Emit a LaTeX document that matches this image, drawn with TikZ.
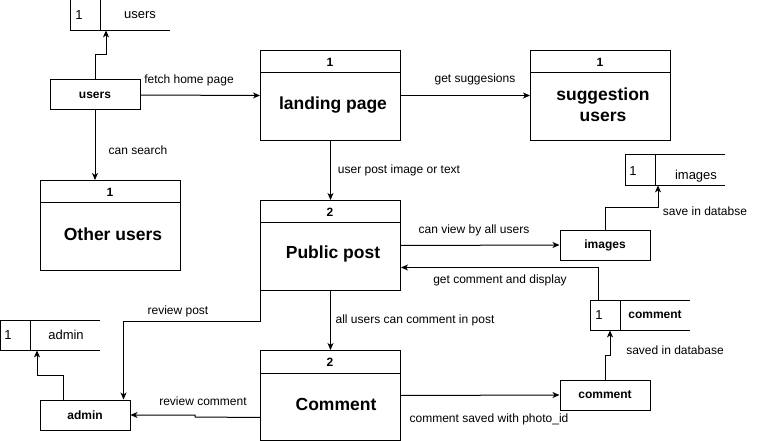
\documentclass[tikz,border=0pt]{standalone}
\usepackage{fontspec}
\setmainfont{Liberation Sans}
\usetikzlibrary{arrows.meta,calc}
\tikzset{
  ln/.style={line width=1pt,draw=black},
  arr/.style={ln,-{Stealth[length=7pt,width=6pt,inset=2pt]}},
  proc/.style={ln,rectangle,minimum width=140pt,minimum height=90pt,inner sep=0pt,anchor=north west},
  ent/.style={ln,rectangle,minimum width=90pt,minimum height=30pt,inner sep=0pt,font=\bfseries\fontsize{12}{14}\selectfont},
  store/.style={rectangle,minimum width=100pt,minimum height=30pt,inner sep=0pt,anchor=north west},
  lbl/.style={font=\fontsize{12}{14}\selectfont,inner sep=0pt},
  hdr/.style={font=\bfseries\fontsize{12}{14}\selectfont,inner sep=0pt},
  ttl/.style={font=\bfseries\fontsize{17.5}{21}\selectfont,inner sep=0pt,align=center},
  stxt/.style={font=\fontsize{13}{15}\selectfont,inner sep=0pt},
}
\newcommand{\datastore}[1]{%
  \draw[ln] (#1.north east) -- (#1.north west) -- (#1.south west) -- (#1.south east);
  \draw[ln] ($(#1.north west)+(30,0)$) -- ($(#1.south west)+(30,0)$);}
\newcommand{\prochdr}[1]{%
  \draw[ln] ($(#1.north west)+(0,23)$) -- ($(#1.north east)+(0,23)$);}
\begin{document}
\begin{tikzpicture}[x=1pt,y=-1pt]
\useasboundingbox (0,0) rectangle (761,441);
% data stores
\node[store] (us) at (70,0) {};
\datastore{us}
\node[stxt] (usn) at (79,15) {1};
\node[stxt] (ust) at (140,15) {users};
\node[store] (is) at (625,155) {};
\datastore{is}
\node[stxt] (isn) at (633,171) {1};
\node[stxt] (ist) at (696,176) {images};
\node[store] (cs) at (590,300) {};
\datastore{cs}
\node[stxt] (csn) at (599,315) {1};
\node[hdr] (cst) at (655,315) {comment};
\node[store] (as) at (0,320) {};
\datastore{as}
\node[stxt] (asn) at (8,335) {1};
\node[stxt] (ast) at (66,335) {admin};
% processes
\node[proc] (lp) at (260,50) {};
\prochdr{lp}
\node[hdr] (lpn) at (330,62) {1};
\node[ttl] (lpt) at (333,105) {landing page};
\node[proc] (su) at (530,50) {};
\prochdr{su}
\node[hdr] (sun) at (600,62) {1};
\node[ttl] (sut) at (603,105) {suggestion\\users};
\node[proc] (ou) at (40,180) {};
\prochdr{ou}
\node[hdr] (oun) at (110,192) {1};
\node[ttl] (out) at (113,234) {Other users};
\node[proc] (pp) at (260,200) {};
\prochdr{pp}
\node[hdr] (ppn) at (330,212) {2};
\node[ttl] (ppt) at (333,254) {Public post};
\node[proc] (cm) at (260,350) {};
\prochdr{cm}
\node[hdr] (cmn) at (330,362) {2};
\node[ttl] (cmt) at (336,404) {Comment};
% entities
\node[ent] (ue) at (95,95) {users};
\node[ent] (im) at (605,245) {images};
\node[ent] (ce) at (605,395) {comment};
\node[ent] (ad) at (85,415) {admin};
% connectors
\draw[arr] (ue.north) |- (106,55) -- (106,0 |- us.south);
\draw[arr] (ue.east) -- (lp.west);
\draw[arr] (ue.south) -- (ue.south |- ou.north);
\draw[arr] (lp.east) -- (su.west);
\draw[arr] (lp.south) -- (pp.north);
\draw[arr] (pp.east) -- (im.west);
\draw[arr] (im.north) |- (658,208) -- (658,0 |- is.south);
\draw[arr] ([xshift=8pt]cs.north west) |- ([yshift=-22pt]pp.east);
\draw[arr] (pp.south) -- (cm.north);
\draw[arr] (cm.east) -- (ce.west);
\draw[arr] (ce.north) |- (610,355) -- (610,0 |- cs.south);
\draw[arr] (pp.south west) -- ++(0,30) -| ([xshift=-7pt]ad.north east);
\draw[arr] ([yshift=-22pt]cm.west) -- (195,417) -- (195,415) -- (ad.east);
\draw[arr] ([xshift=-22pt]ad.north) |- (37,375) -- (37,0 |- as.south);
% labels
\node[lbl] (l1) at (189,80) {fetch home page};
\node[lbl] (l2) at (138,150) {can search};
\node[lbl] (l3) at (475,79) {get suggesions};
\node[lbl] (l4) at (399,170) {user post image or text};
\node[lbl] (l5) at (474,230) {can view by all users};
\node[lbl] (l6) at (705,211) {save in databse};
\node[lbl] (l7) at (500,280) {get comment and display};
\node[lbl] (l8) at (415,320) {all users can comment in post};
\node[lbl] (l9) at (489,419) {comment saved with photo\_id};
\node[lbl] (l10) at (675,350) {saved in database};
\node[lbl] (l11) at (178,311) {review post};
\node[lbl] (l12) at (203,401) {review comment};
\end{tikzpicture}
\end{document}
